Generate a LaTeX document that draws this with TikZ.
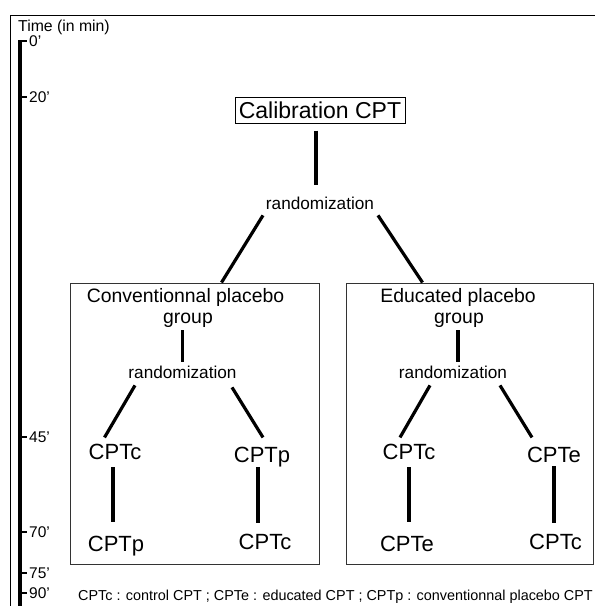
\documentclass[tikz,border=0pt]{standalone}
\usepackage{fontspec}
\setmainfont{Liberation Sans}
\usetikzlibrary{calc}
\begin{document}
\begin{tikzpicture}[x=1pt,y=-1pt,
  conn/.style={line width=3.2pt},
  tickline/.style={line width=2.6pt},
  frameline/.style={line width=1.6pt},
  txt/.style={inner sep=0pt, anchor=base},
  big/.style={txt, font=\fontsize{22}{26}\selectfont},
  mid/.style={txt, font=\fontsize{19.4}{23}\selectfont},
  rnd/.style={txt, font=\fontsize{17.2}{20}\selectfont},
  ticklbl/.style={inner sep=0pt, anchor=base west, font=\fontsize{15.5}{18}\selectfont},
  gbox/.style={draw=black!80, line width=1pt, inner sep=0pt},
]
\useasboundingbox (0,0) rectangle (595,606);
\fill[white] (0,0) rectangle (595,606);
% outer frame
\coordinate (fTL) at (10.5,15.5);
\coordinate (fTR) at (595,15.5);
\coordinate (fBL) at (10.5,606);
\draw[frameline] (fTR) -- (fTL) -- (fBL);

% time axis
\node[inner sep=0pt, anchor=base west, font=\fontsize{15.8}{18}\selectfont] (tlab) at (18,31) {Time (in min)};
\coordinate (axTop) at (20,40);
\coordinate (axBot) at (20,606);
\draw[line width=3.2pt] (axTop) -- (axBot);
\foreach \y/\t/\n in {41/0/t0,97/20/t20,437/45/t45,532/70/t70,573/75/t75,593/90/t90}{
  \coordinate (\n a) at (19,\y);
  \node[ticklbl] (\n) at (29,\y+5.5) {\t’};
  \draw[tickline] (\n a) -- ($(\n a -| \n.west)+(-2,0)$);
}

% top
\node[draw, line width=1pt, inner sep=0pt, minimum width=170pt, minimum height=26pt,
  font=\fontsize{23}{27}\selectfont] (calib) at (320,110) {Calibration CPT};
\node[rnd] (rand) at (320,209) {randomization};
\draw[conn] ($(calib.south)+(-4,7)$) -- ($(rand.north)+(-4,-11)$);

% group boxes
\node[gbox, minimum width=249pt, minimum height=281pt] (lbox) at (194.5,423.5) {};
\node[gbox, minimum width=247pt, minimum height=281pt] (rbox) at (469.5,423.5) {};

\draw[conn] ($(rand.south)+(-57,6)$) -- ($(lbox.north west)+(152,0)$);
\draw[conn] ($(rand.south)+(58,6)$) -- ($(rbox.north west)+(77,0)$);

% left group
\node[mid] (ltitle) at (185.5,302) {Conventionnal placebo};
\node[mid] (lgrp) at (188,323) {group};
\node[rnd] (lrand) at (182.5,378) {randomization};
\draw[conn] ($(lrand.north |- lgrp.south)+(0,3)$) -- ($(lrand.north)+(0,-3.5)$);
\node[big] (lc1) at (115,459) {CPTc};
\node[big] (lp1) at (262,462) {CPTp};
\node[big] (lp2) at (116,551) {CPTp};
\node[big] (lc2) at (265,549) {CPTc};
\draw[conn] ($(lrand.south)+(-47.5,7)$) -- ($(lc1.north)+(-10.5,-6)$);
\draw[conn] ($(lrand.south)+(49.5,9)$) -- ($(lp1.north)+(1,-9)$);
\draw[conn] ($(lc1.south)+(-2,8)$) -- ($(lc1.south |- lp2.north)+(-2,-13)$);
\draw[conn] ($(lp1.south)+(-4,0)$) -- ($(lp1.south |- lc2.north)+(-4,-10)$);

% right group
\node[mid] (rtitle) at (458,302) {Educated placebo};
\node[mid] (rgrp) at (459,323) {group};
\node[rnd] (rrand) at (453,378) {randomization};
\draw[conn] ($(rgrp.south)+(-1,3)$) -- ($(rgrp.south |- rrand.north)+(-1,-3.5)$);
\node[big] (rc1) at (409,459) {CPTc};
\node[big] (re1) at (554,462) {CPTe};
\node[big] (re2) at (407,551) {CPTe};
\node[big] (rc2) at (555.5,549) {CPTc};
\draw[conn] ($(rrand.south)+(-23,7)$) -- ($(rc1.north)+(-9,-6)$);
\draw[conn] ($(rrand.south)+(47,7)$) -- ($(re1.north)+(-22,-9)$);
\draw[conn] ($(rc1.south)+(0,8)$) -- ($(rc1.south |- re2.north)+(0,-13)$);
\draw[conn] ($(re1.south)+(0,4)$) -- ($(re1.south |- rc2.north)+(0,-10)$);

% legend
\node[inner sep=0pt, anchor=base west, font=\fontsize{14.4}{17}\selectfont] (legend) at (78,600.5)
  {CPTc : control CPT ; CPTe : educated CPT ; CPTp : conventionnal placebo CPT};
\end{tikzpicture}
\end{document}
